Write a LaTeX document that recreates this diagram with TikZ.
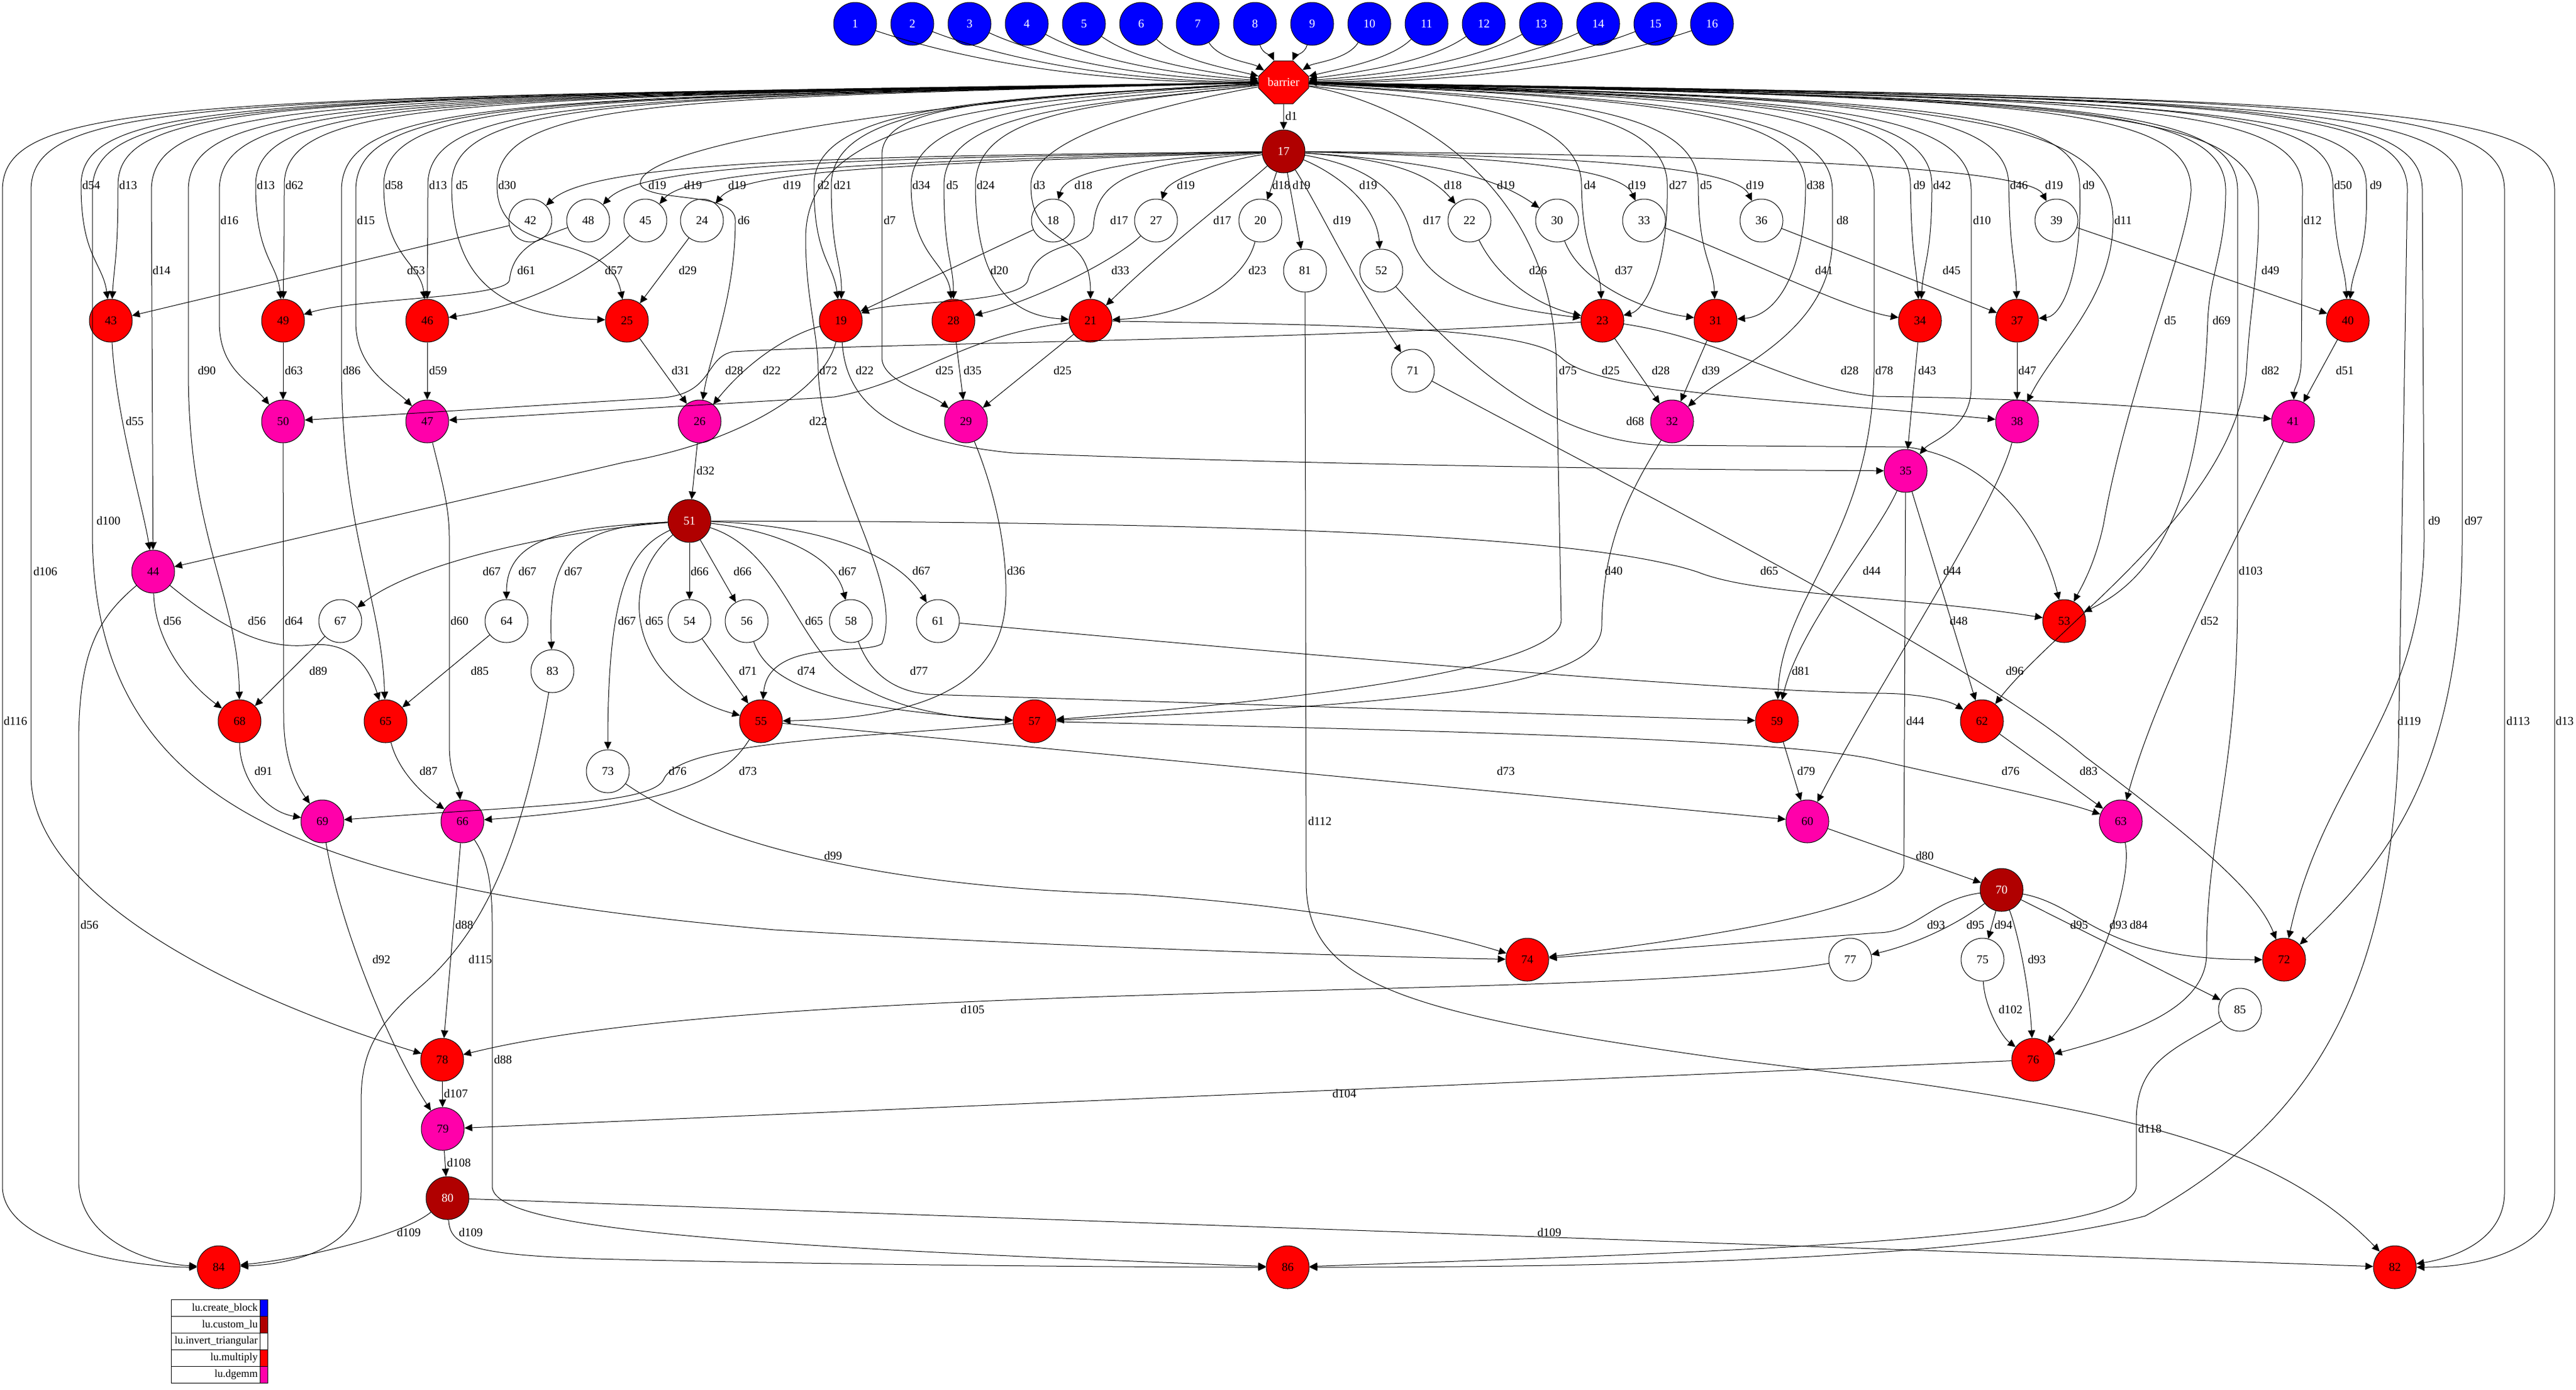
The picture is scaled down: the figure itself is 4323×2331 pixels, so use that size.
\documentclass[tikz,border=0pt]{standalone}
\usepackage{fontspec}
\setmainfont{Liberation Serif}
\usetikzlibrary{arrows.meta,shapes.misc}
\definecolor{lublue}{RGB}{0,0,255}
\definecolor{ludark}{RGB}{176,0,0}
\definecolor{lured}{RGB}{255,0,0}
\definecolor{lumag}{RGB}{255,0,170}
\tikzset{
  task/.style={circle, draw=black, line width=0.5pt, minimum size=36pt, inner sep=0pt, font=\fontsize{10}{12}\selectfont},
  blk/.style={task, fill=lublue, text=white},
  clu/.style={task, fill=ludark, text=white},
  inv/.style={task, fill=white},
  mul/.style={task, fill=lured},
  dgm/.style={task, fill=lumag},
  barr/.style={chamfered rectangle, chamfered rectangle xsep=11.5pt, chamfered rectangle ysep=9.5pt, draw=black, line width=0.5pt, fill=lured, text=white, minimum width=42pt, minimum height=36pt, inner sep=0pt, font=\fontsize{10}{12}\selectfont},
  dep/.style={-{Triangle[length=6.5pt,width=6pt]}, line width=0.5pt},
  lab/.style={font=\fontsize{10}{12}\selectfont, inner sep=0pt},
  legtxt/.style={font=\fontsize{9}{11}\selectfont, inner sep=0pt, anchor=east}
}

\begin{document}
\begin{tikzpicture}[x=0.5pt,y=0.5pt,yscale=-1]
\useasboundingbox (0,0) rectangle (4323,2331);

%Shape: Circle [lu.create_block]
\node[blk] (n1) at (1435,40) {1};
\node[blk] (n2) at (1531,40) {2};
\node[blk] (n3) at (1627,40) {3};
\node[blk] (n4) at (1723,40) {4};
\node[blk] (n5) at (1819,40) {5};
\node[blk] (n6) at (1915,40) {6};
\node[blk] (n7) at (2010,40) {7};
\node[blk] (n8) at (2106,40) {8};
\node[blk] (n9) at (2202,40) {9};
\node[blk] (n10) at (2298,40) {10};
\node[blk] (n11) at (2394,40) {11};
\node[blk] (n12) at (2490,40) {12};
\node[blk] (n13) at (2586,40) {13};
\node[blk] (n14) at (2682,40) {14};
\node[blk] (n15) at (2778,40) {15};
\node[blk] (n16) at (2873,40) {16};
%Shape: Octagon
\node[barr] (bar) at (2154,138) {barrier};
%Shape: Circle [lu.custom_lu]
\node[clu] (n17) at (2154,254) {17};
\node[clu] (n51) at (1157,874) {51};
\node[clu] (n70) at (3359,1493) {70};
\node[clu] (n80) at (751,2010) {80};
%Shape: Circle [lu.invert_triangular]
\node[inv] (n42) at (890,370) {42};
\node[inv] (n48) at (987,370) {48};
\node[inv] (n45) at (1083,370) {45};
\node[inv] (n24) at (1178,370) {24};
\node[inv] (n18) at (1767,370) {18};
\node[inv] (n27) at (1940,370) {27};
\node[inv] (n20) at (2115,370) {20};
\node[inv] (n22) at (2466,370) {22};
\node[inv] (n30) at (2613,370) {30};
\node[inv] (n33) at (2759,370) {33};
\node[inv] (n36) at (2956,370) {36};
\node[inv] (n39) at (3451,370) {39};
\node[inv] (n81) at (2190,454) {81};
\node[inv] (n52) at (2318,454) {52};
\node[inv] (n71) at (2371,622) {71};
\node[inv] (n67) at (571,1042) {67};
\node[inv] (n64) at (850,1042) {64};
\node[inv] (n54) at (1157,1042) {54};
\node[inv] (n56) at (1253,1042) {56};
\node[inv] (n58) at (1428,1042) {58};
\node[inv] (n61) at (1574,1042) {61};
\node[inv] (n83) at (927,1126) {83};
\node[inv] (n73) at (1020,1294) {73};
\node[inv] (n77) at (3105,1610) {77};
\node[inv] (n75) at (3327,1610) {75};
\node[inv] (n85) at (3759,1694) {85};
%Shape: Circle [lu.multiply]
\node[mul] (n43) at (186,538) {43};
\node[mul] (n49) at (475,538) {49};
\node[mul] (n46) at (717,538) {46};
\node[mul] (n25) at (1052,538) {25};
\node[mul] (n19) at (1411,538) {19};
\node[mul] (n28) at (1600,538) {28};
\node[mul] (n21) at (1830,538) {21};
\node[mul] (n23) at (2689,538) {23};
\node[mul] (n31) at (2879,538) {31};
\node[mul] (n34) at (3222,538) {34};
\node[mul] (n37) at (3385,538) {37};
\node[mul] (n40) at (3940,538) {40};
\node[mul] (n53) at (3464,1042) {53};
\node[mul] (n68) at (402,1210) {68};
\node[mul] (n65) at (647,1210) {65};
\node[mul] (n55) at (1277,1210) {55};
\node[mul] (n57) at (1736,1210) {57};
\node[mul] (n59) at (2982,1210) {59};
\node[mul] (n62) at (3326,1210) {62};
\node[mul] (n74) at (2563,1610) {74};
\node[mul] (n72) at (3833,1610) {72};
\node[mul] (n78) at (742,1778) {78};
\node[mul] (n76) at (3412,1778) {76};
\node[mul] (n84) at (367,2126) {84};
\node[mul] (n86) at (2161,2126) {86};
\node[mul] (n82) at (4019,2126) {82};
%Shape: Circle [lu.dgemm]
\node[dgm] (n50) at (475,707) {50};
\node[dgm] (n47) at (717,707) {47};
\node[dgm] (n26) at (1174,707) {26};
\node[dgm] (n29) at (1621,707) {29};
\node[dgm] (n32) at (2806,707) {32};
\node[dgm] (n38) at (3385,707) {38};
\node[dgm] (n41) at (3848,707) {41};
\node[dgm] (n35) at (3198,790) {35};
\node[dgm] (n44) at (257,959) {44};
\node[dgm] (n69) at (541,1378) {69};
\node[dgm] (n66) at (776,1378) {66};
\node[dgm] (n60) at (3033,1378) {60};
\node[dgm] (n63) at (3559,1378) {63};
\node[dgm] (n79) at (743,1894) {79};

%Curve Lines: blocks into barrier
\draw[dep] (n1) .. controls (1615,100) and (1830,140) .. (bar);
\draw[dep] (n2) .. controls (1687,100) and (1874,136) .. (bar);
\draw[dep] (n3) .. controls (1759,100) and (1917,130) .. (bar);
\draw[dep] (n4) .. controls (1831,100) and (1960,124) .. (bar);
\draw[dep] (n5) .. controls (1903,100) and (2003,118) .. (bar);
\draw[dep] (n6) .. controls (1975,100) and (2060,115) .. (bar);
\draw[dep] (n7) .. controls (2046,100) and (2100,105) .. (bar);
\draw[dep] (n8) .. controls (2118,90) and (2135,95) .. (bar);
\draw[dep] (n9) .. controls (2190,90) and (2172,95) .. (bar);
\draw[dep] (n10) .. controls (2262,100) and (2205,105) .. (bar);
\draw[dep] (n11) .. controls (2334,100) and (2250,115) .. (bar);
\draw[dep] (n12) .. controls (2406,100) and (2305,118) .. (bar);
\draw[dep] (n13) .. controls (2478,100) and (2348,124) .. (bar);
\draw[dep] (n14) .. controls (2550,100) and (2392,130) .. (bar);
\draw[dep] (n15) .. controls (2622,100) and (2435,136) .. (bar);
\draw[dep] (n16) .. controls (2694,100) and (2478,140) .. (bar);

%Straight Lines: barrier into 17
\draw[dep] (bar) -- (n17) node[lab] (t1) at (2167,195) {d1};

%Curve Lines: barrier, left side
\draw[dep] (bar) .. controls (304,165) and (4,165) .. (4,320) -- (4,1990) .. controls (4,2090) and (220,2126) .. (n84) node[lab] (t2) at (26,1210) {d116};
\draw[dep] (bar) .. controls (352,165) and (52,165) .. (52,320) -- (52,1300) .. controls (52,1520) and (450,1690) .. (n78) node[lab] (t3) at (76,959) {d106};
\draw[dep] (bar) .. controls (455,165) and (155,165) .. (155,320) -- (155,900) .. controls (160,1350) and (500,1490) .. (1300,1560) .. controls (1800,1590) and (2300,1605) .. (n74) node[lab] (t4) at (182,874) {d100};
\draw[dep] (bar) .. controls (436,165) and (136,165) .. (136,311) .. controls (136,430) and (172,440) .. (n43) node[lab] (t5) at (153,311) {d54};
\draw[dep] (bar) .. controls (498,165) and (198,165) .. (198,311) .. controls (198,430) and (192,440) .. (n43) node[lab] (t6) at (215,311) {d13};
\draw[dep] (bar) .. controls (554,165) and (254,165) .. (254,320) -- (n44) node[lab] (t7) at (271,454) {d14};
\draw[dep] (bar) .. controls (616,165) and (316,165) .. (316,320) -- (316,622) .. controls (316,900) and (400,1000) .. (n68) node[lab] (t8) at (347,622) {d90};
\draw[dep] (bar) .. controls (668,165) and (368,165) .. (368,320) -- (368,540) .. controls (368,620) and (420,640) .. (n50) node[lab] (t9) at (385,370) {d16};
\draw[dep] (bar) .. controls (729,165) and (429,165) .. (429,311) .. controls (429,430) and (465,440) .. (n49) node[lab] (t10) at (446,311) {d13};
\draw[dep] (bar) .. controls (777,165) and (477,165) .. (477,311) .. controls (477,430) and (476,440) .. (n49) node[lab] (t11) at (494,311) {d62};
\draw[dep] (bar) .. controls (873,165) and (573,165) .. (573,320) -- (573,622) .. controls (575,900) and (640,1000) .. (n65) node[lab] (t12) at (590,622) {d86};
\draw[dep] (bar) .. controls (897,165) and (597,165) .. (597,320) -- (597,540) .. controls (597,620) and (660,650) .. (n47) node[lab] (t13) at (614,370) {d15};
\draw[dep] (bar) .. controls (944,165) and (644,165) .. (644,311) .. controls (644,430) and (705,440) .. (n46) node[lab] (t14) at (661,311) {d58};
\draw[dep] (bar) .. controls (1018,165) and (718,165) .. (718,311) .. controls (718,430) and (717,440) .. (n46) node[lab] (t15) at (735,311) {d13};
\draw[dep] (bar) .. controls (1058,165) and (758,165) .. (758,311) .. controls (758,480) and (850,530) .. (n25) node[lab] (t16) at (775,311) {d5};
\draw[dep] (bar) .. controls (1134,165) and (834,165) .. (834,311) .. controls (834,440) and (1020,380) .. (n25) node[lab] (t17) at (851,311) {d30};
\draw[dep] (bar) .. controls (1500,170) and (1060,250) .. (1075,310) .. controls (1090,340) and (1234,320) .. (1234,370) .. controls (1234,500) and (1190,600) .. (n26) node[lab] (t18) at (1248,370) {d6};
\draw[dep] (bar) .. controls (1666,165) and (1366,175) .. (1366,311) .. controls (1366,430) and (1398,440) .. (n19) node[lab] (t19) at (1382,311) {d2};
\draw[dep] (bar) .. controls (1695,165) and (1395,170) .. (1395,311) .. controls (1395,430) and (1413,440) .. (n19) node[lab] (t20) at (1414,311) {d21};
\draw[dep] (bar) .. controls (1800,170) and (1529,180) .. (1529,311) .. controls (1529,430) and (1590,440) .. (n28) node[lab] (t21) at (1546,311) {d34};
\draw[dep] (bar) .. controls (1850,175) and (1584,180) .. (1584,311) .. controls (1584,430) and (1600,440) .. (n28) node[lab] (t22) at (1598,311) {d5};
\draw[dep] (bar) .. controls (1850,175) and (1637,185) .. (1637,311) .. controls (1637,480) and (1700,530) .. (n21) node[lab] (t23) at (1654,311) {d24};
\draw[dep] (bar) .. controls (1950,175) and (1730,230) .. (1730,311) .. controls (1730,420) and (1830,380) .. (n21) node[lab] (t24) at (1744,311) {d3};
\draw[dep] (bar) .. controls (1700,165) and (1480,170) .. (1480,260) -- (1480,600) .. controls (1480,640) and (1560,660) .. (n29) node[lab] (t25) at (1493,370) {d7};
\draw[dep] (bar) .. controls (1650,170) and (1352,200) .. (1352,400) .. controls (1352,500) and (1373,560) .. (1373,622) .. controls (1380,800) and (1520,980) .. (1480,1080) .. controls (1450,1100) and (1290,1070) .. (n55) node[lab] (t26) at (1390,622) {d72};
\draw[dep] (bar) .. controls (2350,170) and (2612,300) .. (2612,622) -- (2620,1040) .. controls (2620,1130) and (2100,1180) .. (n57) node[lab] (t27) at (2631,622) {d75};

%Curve Lines: barrier, right side
\draw[dep] (bar) .. controls (2354,165) and (2654,170) .. (2654,311) .. controls (2656,430) and (2684,440) .. (n23) node[lab] (t28) at (2668,311) {d4};
\draw[dep] (bar) .. controls (2498,165) and (2798,170) .. (2798,311) .. controls (2800,450) and (2760,520) .. (n23) node[lab] (t29) at (2816,311) {d27};
\draw[dep] (bar) .. controls (2550,165) and (2850,170) .. (2850,311) .. controls (2850,430) and (2875,440) .. (n31) node[lab] (t30) at (2863,311) {d5};
\draw[dep] (bar) .. controls (2730,165) and (3030,180) .. (3030,311) .. controls (3030,460) and (2980,530) .. (n31) node[lab] (t31) at (3047,311) {d38};
\draw[dep] (bar) .. controls (2775,165) and (3075,180) .. (3075,320) -- (3075,400) .. controls (3075,560) and (2900,620) .. (n32) node[lab] (t32) at (3092,370) {d8};
\draw[dep] (bar) .. controls (2845,165) and (3145,170) .. (3145,320) -- (3145,622) .. controls (3140,900) and (2990,1000) .. (n59) node[lab] (t33) at (3162,622) {d78};
\draw[dep] (bar) .. controls (2906,165) and (3206,170) .. (3206,311) .. controls (3208,430) and (3215,440) .. (n34) node[lab] (t34) at (3221,311) {d9};
\draw[dep] (bar) .. controls (2942,165) and (3242,170) .. (3242,311) .. controls (3242,430) and (3228,440) .. (n34) node[lab] (t35) at (3259,311) {d42};
\draw[dep] (bar) .. controls (3008,165) and (3308,175) .. (3308,320) -- (3308,650) .. controls (3308,720) and (3240,740) .. (n35) node[lab] (t36) at (3326,370) {d10};
\draw[dep] (bar) .. controls (3071,165) and (3371,170) .. (3371,311) .. controls (3373,430) and (3383,440) .. (n37) node[lab] (t37) at (3388,311) {d46};
\draw[dep] (bar) .. controls (3190,165) and (3490,180) .. (3490,311) .. controls (3495,460) and (3460,530) .. (n37) node[lab] (t38) at (3505,311) {d9};
\draw[dep] (bar) .. controls (3246,165) and (3546,190) .. (3546,370) .. controls (3546,500) and (3450,580) .. (n38) node[lab] (t39) at (3563,370) {d11};
\draw[dep] (bar) .. controls (3377,165) and (3677,170) .. (3677,320) .. controls (3670,420) and (3570,650) .. (3530,880) .. controls (3515,950) and (3490,990) .. (n53) node[lab] (t40) at (3642,538) {d5};
\draw[dep] (bar) .. controls (3435,165) and (3735,170) .. (3735,320) .. controls (3735,420) and (3708,460) .. (3705,538) .. controls (3695,800) and (3640,960) .. (n53) node[lab] (t41) at (3728,538) {d69};
\draw[dep] (bar) .. controls (3490,165) and (3790,180) .. (3790,350) .. controls (3792,450) and (3775,520) .. (3770,622) .. controls (3750,850) and (3450,1050) .. (n62) node[lab] (t42) at (3810,622) {d82};
\draw[dep] (bar) .. controls (3455,165) and (3755,170) .. (3755,320) -- (3755,1000) .. controls (3755,1300) and (3703,1400) .. (3703,1600) .. controls (3703,1700) and (3550,1740) .. (n76) node[lab] (t43) at (3777,958) {d103};
\draw[dep] (bar) .. controls (3564,165) and (3864,170) .. (3864,320) -- (3862,600) .. controls (3862,640) and (3850,650) .. (n41) node[lab] (t44) at (3881,370) {d12};
\draw[dep] (bar) .. controls (3615,165) and (3915,170) .. (3915,311) .. controls (3918,430) and (3935,440) .. (n40) node[lab] (t45) at (3932,311) {d50};
\draw[dep] (bar) .. controls (3671,165) and (3971,180) .. (3971,311) .. controls (3975,430) and (3950,440) .. (n40) node[lab] (t46) at (3987,311) {d9};
\draw[dep] (bar) .. controls (3765,165) and (4065,170) .. (4065,320) -- (4068,900) .. controls (4068,1200) and (3900,1300) .. (n72) node[lab] (t47) at (4085,874) {d9};
\draw[dep] (bar) .. controls (3832,165) and (4132,175) .. (4132,320) -- (4132,900) .. controls (4132,1300) and (4000,1450) .. (n72) node[lab] (t48) at (4151,874) {d97};
\draw[dep] (bar) .. controls (3740,165) and (4040,170) .. (4040,320) -- (4025,1250) .. controls (4010,1700) and (3850,1900) .. (3600,2040) .. controls (3300,2120) and (2600,2126) .. (n86) node[lab] (t49) at (4043,1210) {d119};
\draw[dep] (bar) .. controls (3903,165) and (4203,170) .. (4203,320) -- (4203,2000) .. controls (4203,2080) and (4120,2110) .. (n82) node[lab] (t50) at (4226,1210) {d113};
\draw[dep] (bar) .. controls (3987,165) and (4287,175) .. (4287,320) -- (4287,2000) .. controls (4287,2100) and (4150,2126) .. (n82) node[lab] (t51) at (4304,1210) {d13};

%Curve Lines: from 17
\draw[dep] (n17) .. controls (1500,262) and (1000,265) .. (n42) node[lab] (t52) at (1103,311) {d19};
\draw[dep] (n17) .. controls (1500,266) and (1080,270) .. (n48) node[lab] (t53) at (1163,311) {d19};
\draw[dep] (n17) .. controls (1550,270) and (1160,280) .. (n45) node[lab] (t54) at (1237,311) {d19};
\draw[dep] (n17) .. controls (1600,274) and (1250,280) .. (n24) node[lab] (t55) at (1329,311) {d19};
\draw[dep] (n17) .. controls (1950,265) and (1790,280) .. (n18) node[lab] (t56) at (1818,311) {d18};
\draw[dep] (n17) .. controls (2050,270) and (1960,300) .. (n27) node[lab] (t57) at (1990,311) {d19};
\draw[dep] (n17) -- (n20) node[lab] (t58) at (2150,311) {d18};
\draw[dep] (n17) -- (n81) node[lab] (t59) at (2184,311) {d19};
\draw[dep] (n17) .. controls (2240,290) and (2310,340) .. (n52) node[lab] (t60) at (2296,311) {d19};
\draw[dep] (n17) .. controls (2215,350) and (2260,450) .. (n71) node[lab] (t61) at (2252,370) {d19};
\draw[dep] (n17) .. controls (1900,275) and (1840,300) .. (1835,380) .. controls (1830,420) and (1740,400) .. (1725,470) .. controls (1715,510) and (1500,505) .. (n19) node[lab] (t62) at (1878,370) {d17};
\draw[dep] (n17) .. controls (2080,320) and (1950,420) .. (n21) node[lab] (t63) at (2051,370) {d17};
\draw[dep] (n17) .. controls (2300,265) and (2390,280) .. (n22) node[lab] (t64) at (2438,311) {d18};
\draw[dep] (n17) .. controls (2380,270) and (2500,290) .. (n30) node[lab] (t65) at (2527,311) {d19};
\draw[dep] (n17) .. controls (2500,262) and (2720,280) .. (n33) node[lab] (t66) at (2747,311) {d19};
\draw[dep] (n17) .. controls (2600,262) and (2910,275) .. (n36) node[lab] (t67) at (2945,311) {d19};
\draw[dep] (n17) .. controls (2700,258) and (3400,270) .. (n39) node[lab] (t68) at (3447,311) {d19};
\draw[dep] (n17) .. controls (2300,280) and (2350,320) .. (2370,400) .. controls (2400,500) and (2550,520) .. (n23) node[lab] (t69) at (2403,370) {d17};

%Curve Lines: middle ranks
\draw[dep] (n42) -- (n43) node[lab] (t70) at (698,454) {d53};
\draw[dep] (n48) .. controls (900,400) and (860,420) .. (855,470) .. controls (850,500) and (600,500) .. (n49) node[lab] (t71) at (883,454) {d61};
\draw[dep] (n45) .. controls (1000,450) and (900,510) .. (n46) node[lab] (t72) at (1030,454) {d57};
\draw[dep] (n24) -- (n25) node[lab] (t73) at (1154,454) {d29};
\draw[dep] (n18) -- (n19) node[lab] (t74) at (1677,454) {d20};
\draw[dep] (n27) .. controls (1880,430) and (1750,500) .. (n28) node[lab] (t75) at (1880,454) {d33};
\draw[dep] (n20) .. controls (2090,470) and (2000,530) .. (n21) node[lab] (t76) at (2110,454) {d23};
\draw[dep] (n22) .. controls (2510,460) and (2570,510) .. (n23) node[lab] (t77) at (2581,454) {d26};
\draw[dep] (n30) .. controls (2650,470) and (2750,520) .. (n31) node[lab] (t78) at (2725,454) {d37};
\draw[dep] (n33) .. controls (2900,420) and (3100,520) .. (n34) node[lab] (t79) at (3061,454) {d41};
\draw[dep] (n36) -- (n37) node[lab] (t80) at (3275,454) {d45};
\draw[dep] (n39) -- (n40) node[lab] (t81) at (3810,454) {d49};
\draw[dep] (n81) -- (2192,1480) .. controls (2192,1650) and (2350,1700) .. (2900,1777) .. controls (3500,1850) and (3800,1900) .. (n82) node[lab] (t82) at (2215,1378) {d112};
\draw[dep] (n52) .. controls (2450,600) and (2600,745) .. (2800,747) -- (3200,750) .. controls (3350,770) and (3430,900) .. (n53) node[lab] (t83) at (2744,707) {d68};
\draw[dep] (n71) .. controls (2700,800) and (3300,1100) .. (3500,1270) .. controls (3700,1420) and (3790,1500) .. (n72) node[lab] (t84) at (3381,1126) {d96};
\draw[dep] (n43) .. controls (195,700) and (240,850) .. (n44) node[lab] (t85) at (226,707) {d55};
\draw[dep] (n49) -- (n50) node[lab] (t86) at (493,622) {d63};
\draw[dep] (n46) -- (n47) node[lab] (t87) at (735,622) {d59};
\draw[dep] (n25) -- (n26) node[lab] (t88) at (1142,622) {d31};
\draw[dep] (n19) .. controls (1330,560) and (1260,600) .. (n26) node[lab] (t89) at (1295,622) {d22};
\draw[dep] (n19) .. controls (1385,650) and (1250,740) .. (1050,775) -- (n44) node[lab] (t90) at (1373,707) {d22};
\draw[dep] (n19) .. controls (1420,680) and (1500,740) .. (1700,760) .. controls (2200,780) and (2800,788) .. (n35) node[lab] (t91) at (1451,622) {d22};
\draw[dep] (n28) -- (n29) node[lab] (t92) at (1632,622) {d35};
\draw[dep] (n21) -- (n29) node[lab] (t93) at (1783,622) {d25};
\draw[dep] (n21) .. controls (1620,560) and (1540,640) .. (1400,666) -- (n47) node[lab] (t94) at (1585,622) {d25};
\draw[dep] (n21) .. controls (2200,545) and (2560,545) .. (2620,600) .. controls (2680,660) and (3000,670) .. (n38) node[lab] (t95) at (2703,622) {d25};
\draw[dep] (n23) .. controls (2200,570) and (1500,575) .. (1230,590) .. controls (1180,600) and (1200,665) .. (1100,668) -- (n50) node[lab] (t96) at (1232,622) {d28};
\draw[dep] (n23) -- (n32) node[lab] (t97) at (2787,622) {d28};
\draw[dep] (n23) .. controls (2900,570) and (3000,650) .. (3150,665) .. controls (3500,670) and (3700,690) .. (n41) node[lab] (t98) at (3104,622) {d28};
\draw[dep] (n31) -- (n32) node[lab] (t99) at (2871,622) {d39};
\draw[dep] (n34) -- (n35) node[lab] (t100) at (3234,622) {d43};
\draw[dep] (n37) -- (n38) node[lab] (t101) at (3402,622) {d47};
\draw[dep] (n40) -- (n41) node[lab] (t102) at (3935,622) {d51};
\draw[dep] (n26) -- (n51) node[lab] (t103) at (1184,790) {d32};
\draw[dep] (n29) .. controls (1660,800) and (1690,900) .. (1688,1000) .. controls (1685,1150) and (1550,1205) .. (n55) node[lab] (t104) at (1705,958) {d36};
\draw[dep] (n32) .. controls (2740,820) and (2690,900) .. (2688,1050) .. controls (2688,1150) and (2400,1180) .. (n57) node[lab] (t105) at (2708,958) {d40};
\draw[dep] (n35) .. controls (3150,900) and (3020,1050) .. (n59) node[lab] (t106) at (3141,958) {d44};
\draw[dep] (n35) -- (n62) node[lab] (t107) at (3276,958) {d44};
\draw[dep] (n35) -- (3195,1450) .. controls (3195,1530) and (2800,1580) .. (n74) node[lab] (t108) at (3214,1210) {d44};
\draw[dep] (n38) .. controls (3350,850) and (3150,1150) .. (n60) node[lab] (t109) at (3287,1042) {d48};
\draw[dep] (n41) .. controls (3780,850) and (3620,1150) .. (n63) node[lab] (t110) at (3708,1042) {d52};

%Curve Lines: from 51
\draw[dep] (n51) .. controls (950,890) and (700,940) .. (n67) node[lab] (t111) at (825,959) {d67};
\draw[dep] (n51) .. controls (950,885) and (850,900) .. (n64) node[lab] (t112) at (885,959) {d67};
\draw[dep] (n51) .. controls (950,885) and (920,940) .. (n83) node[lab] (t113) at (962,959) {d67};
\draw[dep] (n51) .. controls (1060,920) and (1020,980) .. (n73) node[lab] (t114) at (1052,1042) {d67};
\draw[dep] (n51) -- (n54) node[lab] (t115) at (1174,959) {d66};
\draw[dep] (n51) -- (n56) node[lab] (t116) at (1246,959) {d66};
\draw[dep] (n51) .. controls (1300,890) and (1400,930) .. (n58) node[lab] (t117) at (1422,959) {d67};
\draw[dep] (n51) .. controls (1350,880) and (1500,920) .. (n61) node[lab] (t118) at (1546,958) {d67};
\draw[dep] (n51) .. controls (1030,980) and (1060,1150) .. (n55) node[lab] (t119) at (1098,1042) {d65};
\draw[dep] (n51) .. controls (1300,920) and (1330,1050) .. (1400,1120) .. controls (1480,1190) and (1600,1205) .. (n57) node[lab] (t120) at (1366,1042) {d65};
\draw[dep] (n51) -- (1450,875) .. controls (2300,882) and (2700,910) .. (2850,960) .. controls (2950,1000) and (3200,1000) .. (n53) node[lab] (t121) at (2969,958) {d65};

%Curve Lines: lower ranks
\draw[dep] (n44) .. controls (160,1040) and (132,1100) .. (132,1250) -- (132,1980) .. controls (132,2080) and (250,2120) .. (n84) node[lab] (t122) at (150,1552) {d56};
\draw[dep] (n44) .. controls (260,1080) and (320,1150) .. (n68) node[lab] (t123) at (289,1042) {d56};
\draw[dep] (n44) .. controls (380,1060) and (450,1090) .. (520,1082) .. controls (590,1075) and (620,1120) .. (n65) node[lab] (t124) at (431,1042) {d56};
\draw[dep] (n67) -- (n68) node[lab] (t125) at (534,1126) {d89};
\draw[dep] (n64) -- (n65) node[lab] (t126) at (805,1126) {d85};
\draw[dep] (n54) -- (n55) node[lab] (t127) at (1255,1126) {d71};
\draw[dep] (n56) .. controls (1290,1150) and (1400,1190) .. (n57) node[lab] (t128) at (1353,1126) {d74};
\draw[dep] (n58) .. controls (1460,1130) and (1500,1160) .. (1560,1165) -- (n59) node[lab] (t129) at (1542,1126) {d77};
\draw[dep] (n61) .. controls (2200,1100) and (2900,1160) .. (3150,1163) .. controls (3220,1163) and (3270,1175) .. (n62) node[lab] (t130) at (3022,1126) {d81};
\draw[dep] (n83) .. controls (880,1400) and (820,1560) .. (700,1660) .. controls (620,1730) and (606,1780) .. (606,1850) -- (606,2000) .. controls (606,2090) and (500,2120) .. (n84) node[lab] (t131) at (806,1610) {d115};
\draw[dep] (n68) .. controls (402,1300) and (440,1360) .. (n69) node[lab] (t132) at (442,1294) {d91};
\draw[dep] (n65) .. controls (670,1300) and (720,1340) .. (n66) node[lab] (t133) at (719,1294) {d87};
\draw[dep] (n50) -- (476,1200) .. controls (476,1280) and (500,1320) .. (n69) node[lab] (t134) at (493,1042) {d64};
\draw[dep] (n47) .. controls (740,800) and (754,850) .. (754,900) -- (754,1250) .. controls (754,1300) and (770,1320) .. (n66) node[lab] (t135) at (771,1042) {d60};
\draw[dep] (n55) .. controls (1220,1300) and (1150,1350) .. (n66) node[lab] (t136) at (1255,1294) {d73};
\draw[dep] (n55) -- (n60) node[lab] (t137) at (2527,1294) {d73};
\draw[dep] (n57) .. controls (1500,1235) and (1150,1240) .. (1115,1305) .. controls (1100,1350) and (900,1350) .. (n69) node[lab] (t138) at (1137,1294) {d76};
\draw[dep] (n57) .. controls (2400,1225) and (3000,1240) .. (3150,1275) .. controls (3300,1310) and (3450,1340) .. (n63) node[lab] (t139) at (3374,1294) {d76};
\draw[dep] (n59) -- (n60) node[lab] (t140) at (3031,1294) {d79};
\draw[dep] (n62) -- (n63) node[lab] (t141) at (3505,1294) {d83};
\draw[dep] (n73) .. controls (1200,1420) and (1500,1490) .. (1900,1500) .. controls (2200,1520) and (2400,1560) .. (n74) node[lab] (t142) at (1398,1436) {d99};
\draw[dep] (n60) -- (n70) node[lab] (t143) at (3230,1436) {d80};
\draw[dep] (n63) .. controls (3580,1480) and (3520,1650) .. (n76) node[lab] (t144) at (3589,1552) {d84};

%Curve Lines: from 70
\draw[dep] (n70) .. controls (3240,1510) and (3215,1565) .. (3150,1565) -- (n74) node[lab] (t145) at (3249,1552) {d93};
\draw[dep] (n70) .. controls (3300,1540) and (3230,1580) .. (n77) node[lab] (t146) at (3315,1552) {d95};
\draw[dep] (n70) -- (n75) node[lab] (t147) at (3362,1552) {d94};
\draw[dep] (n70) .. controls (3385,1560) and (3405,1650) .. (n76) node[lab] (t148) at (3418,1610) {d93};
\draw[dep] (n70) -- (n85) node[lab] (t149) at (3489,1552) {d95};
\draw[dep] (n70) .. controls (3500,1520) and (3520,1610) .. (n72) node[lab] (t150) at (3555,1552) {d93};
\draw[dep] (n75) .. controls (3330,1690) and (3360,1740) .. (n76) node[lab] (t151) at (3374,1694) {d102};
\draw[dep] (n77) .. controls (2700,1680) and (1300,1640) .. (n78) node[lab] (t152) at (1632,1694) {d105};
\draw[dep] (n76) -- (n79) node[lab] (t153) at (2256,1835) {d104};
\draw[dep] (n85) .. controls (3650,1760) and (3585,1780) .. (3585,1880) -- (3585,1990) .. controls (3585,2080) and (2900,2100) .. (n86) node[lab] (t154) at (3608,1894) {d118};

%Curve Lines: bottom left
\draw[dep] (n66) -- (n78) node[lab] (t155) at (779,1552) {d88};
\draw[dep] (n66) .. controls (810,1430) and (826,1460) .. (826,1550) -- (826,1990) .. controls (826,2060) and (1200,2090) .. (n86) node[lab] (t156) at (844,1778) {d88};
\draw[dep] (n69) .. controls (570,1550) and (650,1750) .. (n79) node[lab] (t157) at (640,1610) {d92};
\draw[dep] (n78) -- (n79) node[lab] (t158) at (765,1835) {d107};
\draw[dep] (n79) -- (n80) node[lab] (t159) at (770,1951) {d108};
\draw[dep] (n80) .. controls (680,2070) and (520,2110) .. (n84) node[lab] (t160) at (686,2068) {d109};
\draw[dep] (n80) .. controls (755,2090) and (790,2105) .. (1000,2112) .. controls (1400,2122) and (1900,2126) .. (n86) node[lab] (t161) at (790,2068) {d109};
\draw[dep] (n80) -- (n82) node[lab] (t162) at (2600,2068) {d109};

%Shape: Legend
\draw[line width=0.5pt] (287,2180) rectangle (436,2208);
\draw[line width=0.5pt, fill=lublue] (436,2180) rectangle (449,2208);
\node[legtxt] (k1) at (433,2194) {lu.create\_block};
\draw[line width=0.5pt] (287,2208) rectangle (436,2236);
\draw[line width=0.5pt, fill=ludark] (436,2208) rectangle (449,2236);
\node[legtxt] (k2) at (433,2222) {lu.custom\_lu};
\draw[line width=0.5pt] (287,2236) rectangle (436,2264);
\draw[line width=0.5pt, fill=white] (436,2236) rectangle (449,2264);
\node[legtxt] (k3) at (433,2250) {lu.invert\_triangular};
\draw[line width=0.5pt] (287,2264) rectangle (436,2292);
\draw[line width=0.5pt, fill=lured] (436,2264) rectangle (449,2292);
\node[legtxt] (k4) at (433,2278) {lu.multiply};
\draw[line width=0.5pt] (287,2292) rectangle (436,2320);
\draw[line width=0.5pt, fill=lumag] (436,2292) rectangle (449,2320);
\node[legtxt] (k5) at (433,2306) {lu.dgemm};

\end{tikzpicture}
\end{document}
